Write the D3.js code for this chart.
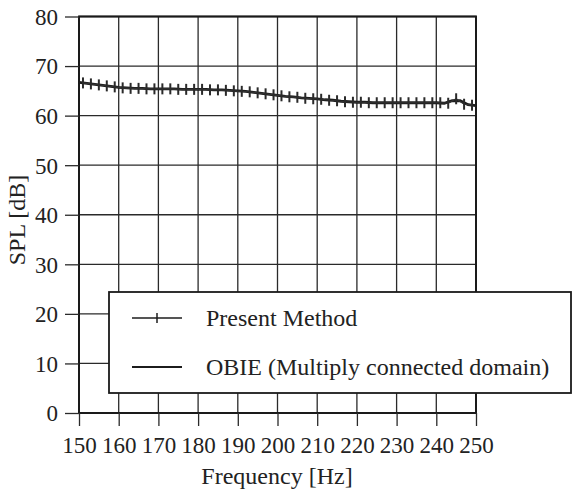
<!DOCTYPE html>
<html>
<head>
<meta charset="utf-8">
<script src="https://cdn.jsdelivr.net/npm/d3@7"></script>
<style>
  body { margin: 0; background: #fff; }
  svg { display: block; }
  text { font-family: "Liberation Serif", "Times New Roman", serif; fill: #222; }
</style>
</head>
<body>
<svg id="chart" width="573" height="490"></svg>
<script>
const X_TICKS = [150, 160, 170, 180, 190, 200, 210, 220, 230, 240, 250];
const Y_TICKS = [0, 10, 20, 30, 40, 50, 60, 70, 80];

// OBIE (multiply connected domain) - solid line
const OBIE_FREQ = [150, 152, 154, 156, 158, 160, 162, 164, 166, 168, 170, 172, 174, 176, 178,
  180, 182, 184, 186, 188, 190, 192, 194, 196, 198, 200, 202, 204, 206, 208, 210, 212, 214,
  216, 218, 220, 222, 224, 226, 228, 230, 232, 234, 236, 238, 240, 242, 244, 246, 248, 250];
const OBIE_SPL = [66.7, 66.5, 66.3, 66.1, 65.9, 65.7, 65.6, 65.5, 65.5, 65.4, 65.4, 65.4, 65.4, 65.3, 65.3,
  65.3, 65.3, 65.2, 65.2, 65.1, 65.0, 64.9, 64.7, 64.5, 64.3, 64.1, 63.9, 63.8, 63.6, 63.5, 63.4, 63.2, 63.1,
  62.9, 62.8, 62.7, 62.7, 62.6, 62.6, 62.6, 62.6, 62.6, 62.6, 62.6, 62.6, 62.6, 62.5, 63.0, 63.0, 62.2, 62.0];

// Present method - line with "+" markers
const PM_FREQ = [151, 153, 155, 157, 159, 161, 163, 165, 167, 169, 171, 173, 175, 177, 179,
  181, 183, 185, 187, 189, 191, 193, 195, 197, 199, 201, 203, 205, 207, 209, 211, 213, 215,
  217, 219, 221, 223, 225, 227, 229, 231, 233, 235, 237, 239, 241, 243, 245, 247, 249];
const PM_SPL = [66.6, 66.4, 66.2, 66.0, 65.8, 65.6, 65.5, 65.5, 65.4, 65.4, 65.4, 65.4, 65.3, 65.3, 65.3,
  65.3, 65.2, 65.2, 65.1, 65.0, 64.9, 64.8, 64.6, 64.4, 64.2, 64.0, 63.8, 63.7, 63.5, 63.4, 63.3, 63.1, 63.0,
  62.8, 62.7, 62.7, 62.6, 62.6, 62.6, 62.6, 62.6, 62.6, 62.6, 62.6, 62.6, 62.6, 62.5, 63.4, 62.3, 62.1];

const LEGEND = ['Present Method', 'OBIE (Multiply connected domain)'];

const FONT = '"Liberation Serif", "Times New Roman", serif';
const svg = d3.select('#chart');

const x = d3.scaleLinear().domain([150, 250]).range([79, 476]);
const y = d3.scaleLinear().domain([0, 80]).range([413, 16.5]);

// grid
const grid = svg.append('g').attr('stroke', '#2a2a2a').attr('stroke-width', 1.3);
grid.selectAll('.vg').data(X_TICKS).enter().append('line')
  .attr('x1', d => x(d)).attr('x2', d => x(d))
  .attr('y1', y(80)).attr('y2', y(0));
grid.selectAll('.hg').data(Y_TICKS).enter().append('line')
  .attr('x1', x(150)).attr('x2', x(250))
  .attr('y1', d => y(d)).attr('y2', d => y(d));

// frame
svg.append('rect')
  .attr('x', x(150)).attr('y', y(80))
  .attr('width', x(250) - x(150)).attr('height', y(0) - y(80))
  .attr('fill', 'none').attr('stroke', '#1a1a1a').attr('stroke-width', 2);

// axes
const xAxis = svg.append('g')
  .attr('transform', `translate(0,${y(0)})`)
  .call(d3.axisBottom(x).tickValues(X_TICKS).tickSize(13).tickPadding(12).tickFormat(d3.format('d')));
const yAxis = svg.append('g')
  .attr('transform', `translate(${x(150)},0)`)
  .call(d3.axisLeft(y).tickValues(Y_TICKS).tickSize(14).tickPadding(7));
[xAxis, yAxis].forEach(a => {
  a.attr('font-family', FONT).attr('font-size', 23);
  a.select('.domain').remove();
  a.selectAll('line').attr('stroke', '#2a2a2a').attr('stroke-width', 1.3);
  a.selectAll('text').attr('fill', '#222');
});
xAxis.selectAll('text').attr('dy', null).attr('y', 40);
yAxis.selectAll('text').attr('dy', '0.34em');

// series
const line = d3.line().x(d => x(d[0])).y(d => y(d[1]));
const obie = OBIE_FREQ.map((f, i) => [f, OBIE_SPL[i]]);
const pm = PM_FREQ.map((f, i) => [f, PM_SPL[i]]);

svg.append('path').datum(obie).attr('d', line)
  .attr('fill', 'none').attr('stroke', '#1c1c1c').attr('stroke-width', 2.8);
svg.append('path').datum(pm).attr('d', line)
  .attr('fill', 'none').attr('stroke', '#333').attr('stroke-width', 1.2);
svg.append('g').selectAll('line').data(pm).enter().append('line')
  .attr('x1', d => x(d[0])).attr('x2', d => x(d[0]))
  .attr('y1', d => y(d[1]) - 5.5).attr('y2', d => y(d[1]) + 5.5)
  .attr('stroke', '#2a2a2a').attr('stroke-width', 2);

// axis titles
svg.append('text').attr('x', 277).attr('y', 484).attr('text-anchor', 'middle')
  .attr('font-size', 24).text('Frequency [Hz]');
svg.append('text').attr('transform', 'translate(25,220) rotate(-90)').attr('text-anchor', 'middle')
  .attr('font-size', 24).text('SPL [dB]');

// legend
const lg = svg.append('g');
lg.append('rect').attr('x', 109).attr('y', 292).attr('width', 462).attr('height', 101)
  .attr('fill', '#fff').attr('stroke', '#1a1a1a').attr('stroke-width', 1.8);
const rows = lg.selectAll('.row').data(LEGEND).enter().append('g')
  .attr('transform', (d, i) => `translate(0,${318 + i * 49})`);
rows.append('line').attr('x1', 132).attr('x2', 182).attr('y1', 0).attr('y2', 0)
  .attr('stroke', '#1c1c1c').attr('stroke-width', (d, i) => i === 0 ? 1.6 : 2.2);
rows.filter((d, i) => i === 0).append('line')
  .attr('x1', 157).attr('x2', 157).attr('y1', -5).attr('y2', 5)
  .attr('stroke', '#1c1c1c').attr('stroke-width', 1.5);
rows.append('text').attr('x', 206).attr('y', 8).attr('font-size', 24).text(d => d);
</script>
</body>
</html>
